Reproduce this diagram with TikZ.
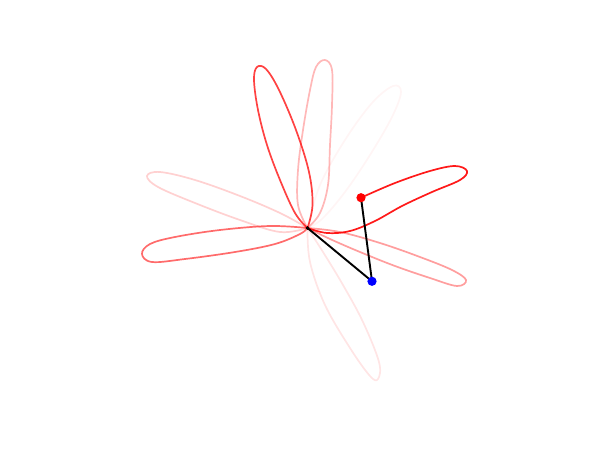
\documentclass[tikz,border=0pt]{standalone}
\begin{document}
\begin{tikzpicture}[x=1pt,y=-1pt,
  trace/.style={red,line width=1.7pt,line join=round,line cap=round},
  link/.style={black,line width=1.9pt},
  bob/.style={circle,inner sep=0pt,minimum size=9pt},
  pivotdot/.style={circle,fill=black,inner sep=0pt,minimum size=3.5pt},
  smooth,tension=0.6]
\useasboundingbox (0,0) rectangle (599,450);
% trace lobes (oldest, faintest first)
\draw[trace,opacity=0.04] plot[smooth] coordinates {(307.5,228) (320,185) (345,140) (372,103) (393,86) (401,92) (392,117) (370,155) (345,192) (322,219) (307.5,228)};
\draw[trace,opacity=0.1] plot[smooth] coordinates {(307.5,228) (310,262) (325,305) (350,348) (370,376) (378,379) (379,362) (363,322) (343,285) (323,252) (307.5,228)};
\draw[trace,opacity=0.18] plot[smooth] coordinates {(307.5,228) (280,213) (240,196) (195,180) (160,172) (147,176) (158,187) (195,203) (240,220) (280,232) (307.5,228)};
\draw[trace,opacity=0.28] plot[smooth] coordinates {(307.5,228) (298,205) (298,170) (303,130) (310,90) (316,67) (325,60) (332,70) (332,105) (330,145) (328,185) (320,213) (307.5,228)};
\draw[trace,opacity=0.38] plot[smooth] coordinates {(307.5,228) (340,232) (380,243) (420,257) (452,270) (466,280) (457,286) (430,278) (395,266) (360,252) (330,239) (307.5,228)};
\draw[trace,opacity=0.58] plot[smooth] coordinates {(307.5,228) (270,226) (220,230) (175,237) (150,244) (142,254) (152,262) (185,259) (235,252) (275,244) (300,234) (307.5,228)};
\draw[trace,opacity=0.74] plot[smooth] coordinates {(307.5,228) (312.5,205) (309,172) (296,130) (279,90) (266,69) (257,67) (254,80) (258,110) (267,145) (280,180) (295,213) (307.5,228)};
\node[pivotdot] (pivot) at (307.5,228) {};
\node[bob] (blue) at (372,281.3) {};
\node[bob] (red) at (361,197.7) {};
\draw[trace,opacity=0.9] plot[smooth] coordinates {(361,197.7) (395,183) (430,171) (455,166) (467,171) (460,180) (432,192) (402,206) (375,221) (350,231) (327,233) (307.5,228)};
\draw[link] (pivot.center) -- (blue.center) -- (red.center);
\fill[black] (pivot) circle (1.8);
\fill[blue] (blue) circle (4.6);
\fill[red] (red) circle (4.6);
\end{tikzpicture}
\end{document}
